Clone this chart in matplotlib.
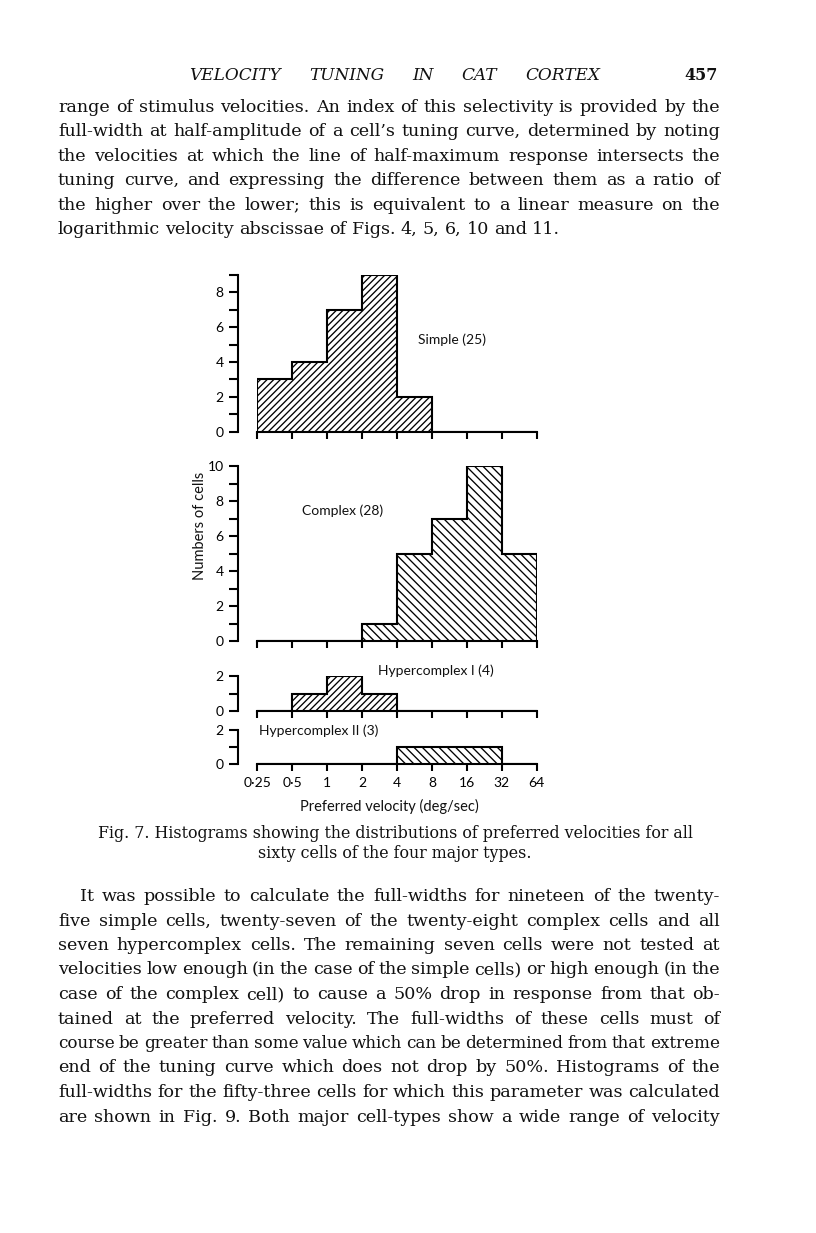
import matplotlib
matplotlib.use('Agg')
import matplotlib.pyplot as plt
from matplotlib.ticker import FixedLocator, FixedFormatter, NullLocator

plt.rcParams['hatch.linewidth'] = 0.95

# ---------------- data ----------------
velocity_edges = [0.25, 0.5, 1, 2, 4, 8, 16, 32, 64]
velocity_labels = ['0·25', '0·5', '1', '2', '4', '8', '16', '32', '64']
simple_counts = [3, 4, 7, 9, 2, 0, 0, 0]
complex_counts = [0, 0, 0, 1, 5, 7, 10, 5]
hyper1_counts = [0, 1, 2, 1, 0, 0, 0, 0]
hyper2_counts = [0, 0, 0, 0, 1, 1, 1, 0]
panel_names = ['Simple (25)', 'Complex (28)', 'Hypercomplex I (4)', 'Hypercomplex II (3)']
panel_ymax = [9, 10, 2, 2]
y_label = 'Numbers of cells'
x_label = 'Preferred velocity (deg/sec)'

header = 'VELOCITY TUNING IN CAT CORTEX'
page_number = '457'
para1 = [
    "range of stimulus velocities. An index of this selectivity is provided by the",
    "full-width at half-amplitude of a cell\u2019s tuning curve, determined by noting",
    "the velocities at which the line of half-maximum response intersects the",
    "tuning curve, and expressing the difference between them as a ratio of",
    "the higher over the lower; this is equivalent to a linear measure on the",
    "logarithmic velocity abscissae of Figs. 4, 5, 6, 10 and 11.",
]
caption = [
    "Fig. 7. Histograms showing the distributions of preferred velocities for all",
    "sixty cells of the four major types.",
]
para2 = [
    "It was possible to calculate the full-widths for nineteen of the twenty-",
    "five simple cells, twenty-seven of the twenty-eight complex cells and all",
    "seven hypercomplex cells. The remaining seven cells were not tested at",
    "velocities low enough (in the case of the simple cells) or high enough (in the",
    "case of the complex cell) to cause a 50% drop in response from that ob-",
    "tained at the preferred velocity. The full-widths of these cells must of",
    "course be greater than some value which can be determined from that extreme",
    "end of the tuning curve which does not drop by 50%. Histograms of the",
    "full-widths for the fifty-three cells for which this parameter was calculated",
    "are shown in Fig. 9. Both major cell-types show a wide range of velocity",
]

# ---------------- page ----------------
W_PX, H_PX = 816, 1233
fig = plt.figure(figsize=(W_PX / 100, H_PX / 100), dpi=100)
fig.patch.set_facecolor('white')
renderer = fig.canvas.get_renderer()

SERIF = ['DejaVu Serif', 'Liberation Serif']
SANS = ['Lato', 'DejaVu Sans']
INK = '#111111'


def fx(x):
    return x / W_PX


def fy(y):
    return 1 - y / H_PX


def place_words(line, y, x0, x1, size, justify=True, min_gap=0.2, **kw):
    words = line.split(' ')
    objs = [fig.text(0, fy(y), w, fontsize=size, family=SERIF, ha='left',
                     va='baseline', color=INK, **kw) for w in words]

    def measure():
        return [o.get_window_extent(renderer).width for o in objs]

    widths = measure()
    n = len(words)
    em = size * 100 / 72
    if justify and n > 1:
        while sum(widths) + (n - 1) * min_gap * em > (x1 - x0):
            size *= 0.99
            em = size * 100 / 72
            for o in objs:
                o.set_fontsize(size)
            widths = measure()
        gap = (x1 - x0 - sum(widths)) / (n - 1)
    else:
        gap = 0.3 * em
    x = x0
    for o, w in zip(objs, widths):
        o.set_x(fx(x))
        x += w + gap


# running head
place_words(header, 80, 189, 600, 12.2, justify=True, style='italic')
fig.text(fx(718), fy(80), page_number, fontsize=11.5, family=SERIF,
         ha='right', va='baseline', color=INK, fontweight='bold')

BODY = 12.6
LEFT, RIGHT = 58, 720
for i, line in enumerate(para1):
    place_words(line, 111.7 + 24.5 * i, LEFT, RIGHT, BODY,
                justify=(i < len(para1) - 1))
for i, line in enumerate(para2):
    place_words(line, 901 + 24.5 * i, LEFT + (22 if i == 0 else 0), RIGHT, BODY,
                justify=True)

# caption (centred)
cap_objs = []
for i, line in enumerate(caption):
    t = fig.text(fx(395), fy(838 + 20 * i), line, fontsize=12.0, family=SERIF,
                 ha='center', va='baseline', color=INK)
    cap_objs.append(t)
w0 = cap_objs[0].get_window_extent(renderer).width
cap_size = 12.0 * 595 / w0
for t in cap_objs:
    t.set_fontsize(cap_size)

# ---------------- histograms ----------------
X0_PX, X1_PX = 257.3, 536.7
panels = [
    # counts, y of zero (px), y of top (px), hatch, label (x,y) px
    (simple_counts, 431.7, 275.0, '/////', (418, 340)),
    (complex_counts, 641.0, 466.0, '\\\\\\\\', (302, 511)),
    (hyper1_counts, 711.0, 676.0, '/////', (378, 671)),
    (hyper2_counts, 764.0, 730.0, '\\\\\\\\', (259, 731)),
]
LW = 1.5
TICK_FS = 10

for k, (counts, yz, yt, hatch, (lx, ly)) in enumerate(panels):
    ax = fig.add_axes([fx(X0_PX), fy(yz), (X1_PX - X0_PX) / W_PX, (yz - yt) / H_PX])
    ax.set_xscale('log', base=2)
    ax.set_xlim(velocity_edges[0], velocity_edges[-1])
    ax.set_ylim(0, panel_ymax[k])
    ax.patch.set_visible(False)
    for s in ('top', 'right'):
        ax.spines[s].set_visible(False)
    ax.spines['left'].set_position(('outward', 19 * 72 / 100))
    ax.spines['left'].set_linewidth(LW)
    ax.spines['bottom'].set_linewidth(LW)

    ax.stairs(counts, velocity_edges, fill=True, hatch=hatch, facecolor='white',
              edgecolor='black', linewidth=LW, zorder=2)

    # x ticks
    ax.xaxis.set_major_locator(FixedLocator(velocity_edges))
    ax.xaxis.set_minor_locator(NullLocator())
    if k == len(panels) - 1:
        ax.xaxis.set_major_formatter(FixedFormatter(velocity_labels))
    else:
        ax.xaxis.set_major_formatter(FixedFormatter([''] * len(velocity_edges)))
    ax.tick_params(axis='x', direction='out', length=5, width=LW, pad=4.5,
                   labelsize=TICK_FS)

    # y ticks: every integer, labels on even values
    yticks = list(range(0, panel_ymax[k] + 1))
    ylabels = [str(v) if v % 2 == 0 else '' for v in yticks]
    ax.yaxis.set_major_locator(FixedLocator(yticks))
    ax.yaxis.set_major_formatter(FixedFormatter(ylabels))
    ax.yaxis.set_minor_locator(NullLocator())
    ax.tick_params(axis='y', direction='out', length=6.5, width=LW, pad=4,
                   labelsize=TICK_FS)
    for lab in ax.get_xticklabels() + ax.get_yticklabels():
        lab.set_family(SANS)

    fig.text(fx(lx), fy(ly), panel_names[k], fontsize=10, family=SANS,
             ha='left', va='center', color=INK)

fig.text(fx(200), fy(526), y_label, fontsize=10.5, family=SANS, rotation=90,
         ha='center', va='center', color=INK)
fig.text(fx(389), fy(806), x_label, fontsize=10.5, family=SANS,
         ha='center', va='center', color=INK)

fig.savefig('out.png', dpi=100, facecolor='white')
